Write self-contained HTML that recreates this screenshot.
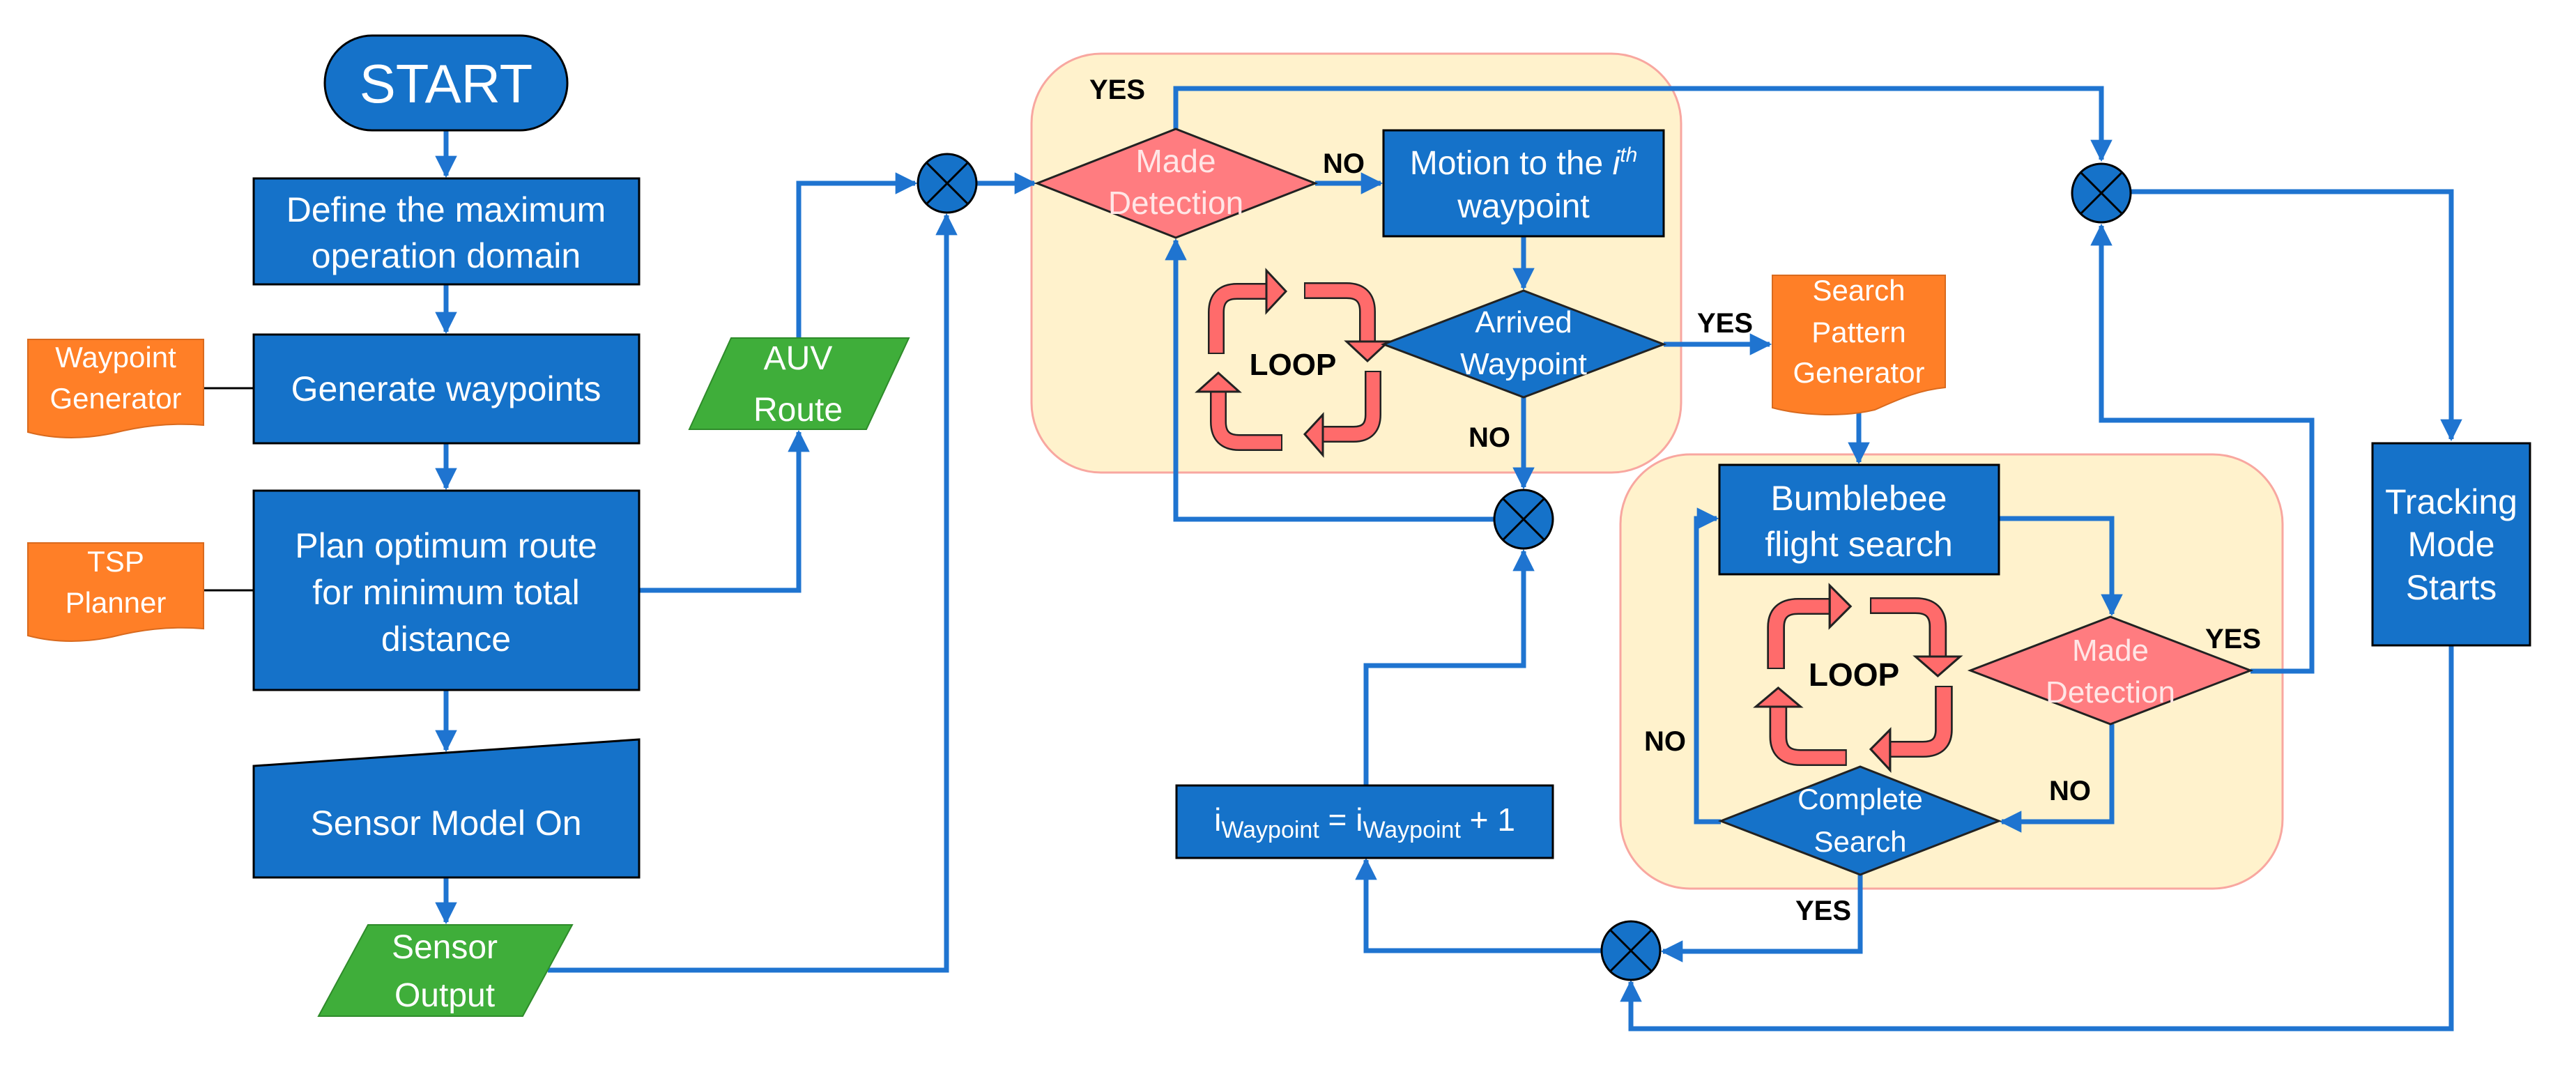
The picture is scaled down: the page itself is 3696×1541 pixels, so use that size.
<!DOCTYPE html>
<html><head><meta charset="utf-8"><style>
html,body{margin:0;padding:0;background:#fff;}
svg{display:block;}
text{font-family:"Liberation Sans",sans-serif;}
.w{fill:#fff;text-anchor:middle;}
.lb{fill:#000;font-weight:bold;font-size:40px;text-anchor:middle;}
.c{fill:none;stroke:#1f74d0;stroke-width:7;}
.box{fill:#1572c9;stroke:#000;stroke-width:3;}
</style></head><body>
<svg width="3696" height="1541" viewBox="0 0 3696 1541" xmlns="http://www.w3.org/2000/svg">
<defs>
<marker id="a" viewBox="0 0 10 10" refX="9" refY="5" markerWidth="4.5" markerHeight="4.5" orient="auto" markerUnits="strokeWidth">
<path d="M0,0 L10,5 L0,10 Z" fill="#1f74d0"/></marker>
<g id="loop">
<g fill="none" stroke-linejoin="round">
<path d="M45,138 L45,78 Q45,48 75,48 L118,48 M171,47 L232,47 Q262,47 262,77 L262,121 M270,162 L270,225 Q270,253 242,253 L197,253 M140,265 L78,265 Q48,265 48,235 L48,191" stroke="#222" stroke-width="24"/>
<path d="M45,136 L45,78 Q45,48 75,48 L120,48 M173,47 L232,47 Q262,47 262,77 L262,123 M270,164 L270,225 Q270,253 242,253 L195,253 M138,265 L78,265 Q48,265 48,235 L48,189" stroke="#ff6b6b" stroke-width="19"/>
</g>
<g fill="#ff6b6b" stroke="#222" stroke-width="3" stroke-linejoin="miter">
<path d="M117,18 L145,48 L117,78 Z"/>
<path d="M232,120 L292,120 L262,148 Z"/>
<path d="M198,225 L198,283 L172,253 Z"/>
<path d="M18,192 L78,192 L48,165 Z"/>
</g>
</g>
</defs>

<rect x="1480" y="77" width="932" height="601" rx="100" fill="#fff2cc" stroke="#f8a7a0" stroke-width="3"/>
<rect x="2325" y="652" width="950" height="623" rx="100" fill="#fff2cc" stroke="#f8a7a0" stroke-width="3"/>

<use href="#loop" x="1700" y="370"/>
<text x="1855" y="538" font-size="44" font-weight="bold" text-anchor="middle">LOOP</text>
<g transform="translate(2500,822) scale(1.07,1)"><use href="#loop"/></g>
<text x="2660" y="984" font-size="46" font-weight="bold" text-anchor="middle">LOOP</text>

<g class="c">
<path d="M640,187 V252" marker-end="url(#a)"/>
<path d="M640,408 V476" marker-end="url(#a)"/>
<path d="M640,636 V700" marker-end="url(#a)"/>
<path d="M640,990 V1076" marker-end="url(#a)"/>
<path d="M640,1259 V1323" marker-end="url(#a)"/>
<path d="M917,847 H1146 V620" marker-end="url(#a)"/>
<path d="M1146,485 V263 H1313" marker-end="url(#a)"/>
<path d="M786,1392 H1358 V309" marker-end="url(#a)"/>
<path d="M1401,263 H1484" marker-end="url(#a)"/>
<path d="M1687,185 V127 H3015 V229" marker-end="url(#a)"/>
<path d="M1887,263 H1981" marker-end="url(#a)"/>
<path d="M2186,339 V413" marker-end="url(#a)"/>
<path d="M2387,494 H2539" marker-end="url(#a)"/>
<path d="M2186,570 V699" marker-end="url(#a)"/>
<path d="M2144,745 H1687 V345" marker-end="url(#a)"/>
<path d="M1960,1127 V955 H2186 V791" marker-end="url(#a)"/>
<path d="M2297,1364 H1960 V1234" marker-end="url(#a)"/>
<path d="M2667,585 V663" marker-end="url(#a)"/>
<path d="M2868,744 H3030 V881" marker-end="url(#a)"/>
<path d="M3229,963 H3317 V603 H3015 V324" marker-end="url(#a)"/>
<path d="M3057,275 H3517 V630" marker-end="url(#a)"/>
<path d="M3030,1039 V1179 H2872" marker-end="url(#a)"/>
<path d="M2469,1179 H2434 V744 H2463" marker-end="url(#a)"/>
<path d="M2669,1255 V1365 H2386" marker-end="url(#a)"/>
<path d="M3517,926 V1476 H2340 V1409" marker-end="url(#a)"/>
</g>
<path d="M292,557 H364 M292,847 H364" stroke="#000" stroke-width="3"/>

<rect x="466" y="51" width="348" height="136" rx="68" class="box"/>
<text x="640" y="147" class="w" font-size="78">START</text>
<rect x="364" y="256" width="553" height="152" class="box"/>
<text x="640" y="318" class="w" font-size="50">Define the maximum</text>
<text x="640" y="384" class="w" font-size="50">operation domain</text>
<rect x="364" y="480" width="553" height="156" class="box"/>
<text x="640" y="575" class="w" font-size="50">Generate waypoints</text>
<rect x="364" y="704" width="553" height="286" class="box"/>
<text x="640" y="800" class="w" font-size="50">Plan optimum route</text>
<text x="640" y="867" class="w" font-size="50">for minimum total</text>
<text x="640" y="934" class="w" font-size="50">distance</text>
<polygon points="364,1099 917,1061 917,1259 364,1259" class="box"/>
<text x="640" y="1198" class="w" font-size="50">Sensor Model On</text>
<polygon points="528,1327 821,1327 750,1458 457,1458" fill="#3fae3a" stroke="#2e8b2a" stroke-width="2"/>
<text x="638" y="1375" class="w" font-size="48">Sensor</text>
<text x="638" y="1444" class="w" font-size="48">Output</text>
<polygon points="1049,485 1304,485 1243,616 989,616" fill="#3fae3a" stroke="#2e8b2a" stroke-width="2"/>
<text x="1145" y="530" class="w" font-size="48">AUV</text>
<text x="1145" y="604" class="w" font-size="48">Route</text>

<path d="M40,487 H292 V610 C240,606 200,612 160,622 C110,632 70,628 40,620 Z" fill="#ff7f27" stroke="#d96a1e" stroke-width="2"/>
<text x="166" y="527" class="w" font-size="42">Waypoint</text>
<text x="166" y="586" class="w" font-size="42">Generator</text>
<path d="M40,779 H292 V902 C240,898 200,904 160,914 C110,924 70,920 40,912 Z" fill="#ff7f27" stroke="#d96a1e" stroke-width="2"/>
<text x="166" y="820" class="w" font-size="42">TSP</text>
<text x="166" y="879" class="w" font-size="42">Planner</text>

<g fill="#1572c9" stroke="#000" stroke-width="3">
<circle cx="1359" cy="263" r="42"/>
<circle cx="2186" cy="745" r="42"/>
<circle cx="2340" cy="1364" r="42"/>
<circle cx="3015" cy="277" r="42"/>
</g>
<g stroke="#000" stroke-width="3">
<path d="M1329,233 L1389,293 M1389,233 L1329,293"/>
<path d="M2156,715 L2216,775 M2216,715 L2156,775"/>
<path d="M2310,1334 L2370,1394 M2370,1334 L2310,1394"/>
<path d="M2985,247 L3045,307 M3045,247 L2985,307"/>
</g>

<polygon points="1488,263 1687,185 1887,263 1687,341" fill="#ff7c80" stroke="#222" stroke-width="3"/>
<text x="1687" y="247" fill="#ffe6e6" font-size="46" text-anchor="middle">Made</text>
<text x="1687" y="307" fill="#ffe6e6" font-size="46" text-anchor="middle">Detection</text>
<rect x="1985" y="187" width="402" height="152" class="box"/>
<text x="2186" y="250" class="w" font-size="48">Motion to the <tspan font-style="italic">i</tspan><tspan font-style="italic" font-size="30" dy="-18">th</tspan></text>
<text x="2186" y="312" class="w" font-size="48">waypoint</text>
<polygon points="1985,494 2186,417 2387,494 2186,570" fill="#1572c9" stroke="#222" stroke-width="3"/>
<text x="2186" y="477" class="w" font-size="44">Arrived</text>
<text x="2186" y="537" class="w" font-size="44">Waypoint</text>

<rect x="1688" y="1127" width="540" height="104" class="box"/>
<text x="1958" y="1192" class="w" font-size="46">i<tspan font-size="34" dy="10">Waypoint</tspan><tspan dy="-10"> = i</tspan><tspan font-size="34" dy="10">Waypoint</tspan><tspan dy="-10"> + 1</tspan></text>

<path d="M2543,395 H2791 V556 C2750,560 2720,575 2690,588 C2640,600 2580,595 2543,585 Z" fill="#ff7f27" stroke="#d96a1e" stroke-width="2"/>
<text x="2667" y="431" class="w" font-size="42">Search</text>
<text x="2667" y="491" class="w" font-size="42">Pattern</text>
<text x="2667" y="549" class="w" font-size="42">Generator</text>

<rect x="2467" y="667" width="401" height="157" class="box"/>
<text x="2667" y="732" class="w" font-size="50">Bumblebee</text>
<text x="2667" y="798" class="w" font-size="50">flight search</text>
<polygon points="2827,962 3028,885 3229,962 3028,1039" fill="#ff7c80" stroke="#222" stroke-width="3"/>
<text x="3028" y="948" fill="#ffe6e6" font-size="44" text-anchor="middle">Made</text>
<text x="3028" y="1008" fill="#ffe6e6" font-size="44" text-anchor="middle">Detection</text>
<polygon points="2469,1178 2669,1100 2868,1178 2669,1255" fill="#1572c9" stroke="#222" stroke-width="3"/>
<text x="2669" y="1161" class="w" font-size="42">Complete</text>
<text x="2669" y="1222" class="w" font-size="42">Search</text>

<rect x="3404" y="636" width="226" height="290" class="box"/>
<text x="3517" y="737" class="w" font-size="50">Tracking</text>
<text x="3517" y="798" class="w" font-size="50">Mode</text>
<text x="3517" y="860" class="w" font-size="50">Starts</text>

<text x="1603" y="142" class="lb">YES</text>
<text x="1928" y="248" class="lb">NO</text>
<text x="2475" y="477" class="lb">YES</text>
<text x="2137" y="641" class="lb">NO</text>
<text x="2389" y="1077" class="lb">NO</text>
<text x="2970" y="1148" class="lb">NO</text>
<text x="3204" y="930" class="lb">YES</text>
<text x="2616" y="1320" class="lb">YES</text>
</svg>
</body></html>
